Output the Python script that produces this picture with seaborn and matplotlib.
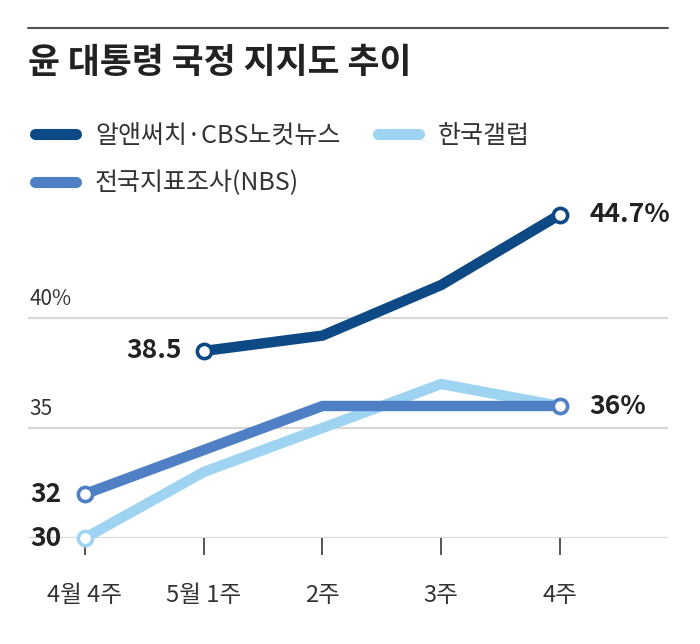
import matplotlib
matplotlib.use("Agg")
import matplotlib.pyplot as plt
from matplotlib.lines import Line2D
import numpy as np
import pandas as pd
import seaborn as sns

weeks = ["4월 4주", "5월 1주", "2주", "3주", "4주"]
realmeter = [np.nan, 38.5, 39.2, 41.5, 44.7]   # 알앤써치·CBS노컷뉴스
gallup = [30, 33, 35, 37, 36]                  # 한국갤럽
nbs = [32, 34, 36, 36, 36]                     # 전국지표조사(NBS)

series_names = ["알앤써치·CBS노컷뉴스", "전국지표조사(NBS)", "한국갤럽"]
colors = {"알앤써치·CBS노컷뉴스": "#0d4a85",
          "전국지표조사(NBS)": "#4f7fc4",
          "한국갤럽": "#9fd3f2"}

grid_ticks = [30, 35, 40]
grid_labels = {40: "40%", 35: "35"}

rows = []
for name, vals in zip(["알앤써치·CBS노컷뉴스", "한국갤럽", "전국지표조사(NBS)"],
                      [realmeter, gallup, nbs]):
    for i, (w, v) in enumerate(zip(weeks, vals)):
        rows.append({"week": w, "pos": i, "value": v, "series": name})
df = pd.DataFrame(rows).dropna()

sns.set_theme(style="white")
plt.rcParams["font.family"] = ["Noto Sans CJK KR", "DejaVu Sans"]

fig = plt.figure(figsize=(7.0, 6.44), dpi=100)
W, H = 700, 644
ax = fig.add_axes([28 / W, (H - 538) / H, 640 / W, (538 - 186) / H])

# lines, light one first so darker lines sit on top
draw_order = ["한국갤럽", "전국지표조사(NBS)", "알앤써치·CBS노컷뉴스"]
for name in draw_order:
    sub = df[df["series"] == name]
    sns.lineplot(data=sub, x="pos", y="value", color=colors[name], lw=7.5,
                 solid_capstyle="round", solid_joinstyle="miter", ax=ax,
                 legend=False, zorder=3, clip_on=False)

# open circle markers at the labelled ends
for name in draw_order:
    sub = df[df["series"] == name]
    ends = sub.iloc[[0, -1]] if name != "한국갤럽" else sub.iloc[[0]]
    ax.scatter(ends["pos"], ends["value"], s=105, facecolor="white",
               edgecolor=colors[name], linewidth=2.6, zorder=5, clip_on=False)

# value labels
lab_kw = dict(fontsize=19, fontweight="bold", color="#222222", va="center")
first_real = df[df["series"] == "알앤써치·CBS노컷뉴스"].iloc[0]
ax.annotate("38.5", (first_real["pos"], first_real["value"]), xytext=(-16, 0),
            textcoords="offset points", ha="right", **lab_kw)
ax.annotate("44.7%", (4, realmeter[-1]), xytext=(21, 0),
            textcoords="offset points", ha="left", **lab_kw)
ax.annotate("36%", (4, nbs[-1]), xytext=(21, 0),
            textcoords="offset points", ha="left", **lab_kw)
ax.annotate(str(nbs[0]), (0, nbs[0]), xytext=(-17, 0),
            textcoords="offset points", ha="right", **lab_kw)
ax.annotate(str(gallup[0]), (0, gallup[0]), xytext=(-17, 0),
            textcoords="offset points", ha="right", **lab_kw)

ax.set_xlim(-0.48, 4.91)
ax.set_ylim(30, 46)
ax.set_yticks(grid_ticks)
ax.yaxis.grid(True, color="#d8d8d8", lw=1.6)
ax.tick_params(axis="y", left=False, labelleft=False)
for t, lab in grid_labels.items():
    ax.annotate(lab, (0, t), xycoords=("axes fraction", "data"), xytext=(1, 6),
                textcoords="offset points", ha="left", va="bottom",
                fontsize=15, color="#333333")

ax.set_xticks(range(len(weeks)))
ax.set_xticklabels(weeks, fontsize=17, color="#333333")
ax.tick_params(axis="x", bottom=True, length=12, width=1.4, color="#555555",
               direction="out", pad=21)
ax.set_xlabel("")
ax.set_ylabel("")
sns.despine(ax=ax, left=True, bottom=True, top=True, right=True)
ax.set_axisbelow(True)

# legend
handles = [Line2D([], [], color=colors[n], lw=8, solid_capstyle="round")
           for n in series_names]
fig.legend(handles, series_names, loc="upper left", ncol=2,
           bbox_to_anchor=(35 / W, 1 - 123 / H), frameon=False,
           borderpad=0, borderaxespad=0,
           handlelength=1.65, handletextpad=0.75, columnspacing=1.5,
           labelspacing=0.85, prop={"size": 18}, labelcolor="#333333")

# header rule and title
fig.add_artist(Line2D([28 / W, 668 / W], [1 - 28 / H, 1 - 28 / H],
                      color="#555555", lw=1.5))
fig.text(28 / W, 1 - 63 / H, "윤 대통령 국정 지지도 추이", fontsize=25,
         fontweight="bold", color="#222222", va="center", ha="left")

fig.savefig("out.png", dpi=100, facecolor="white")
